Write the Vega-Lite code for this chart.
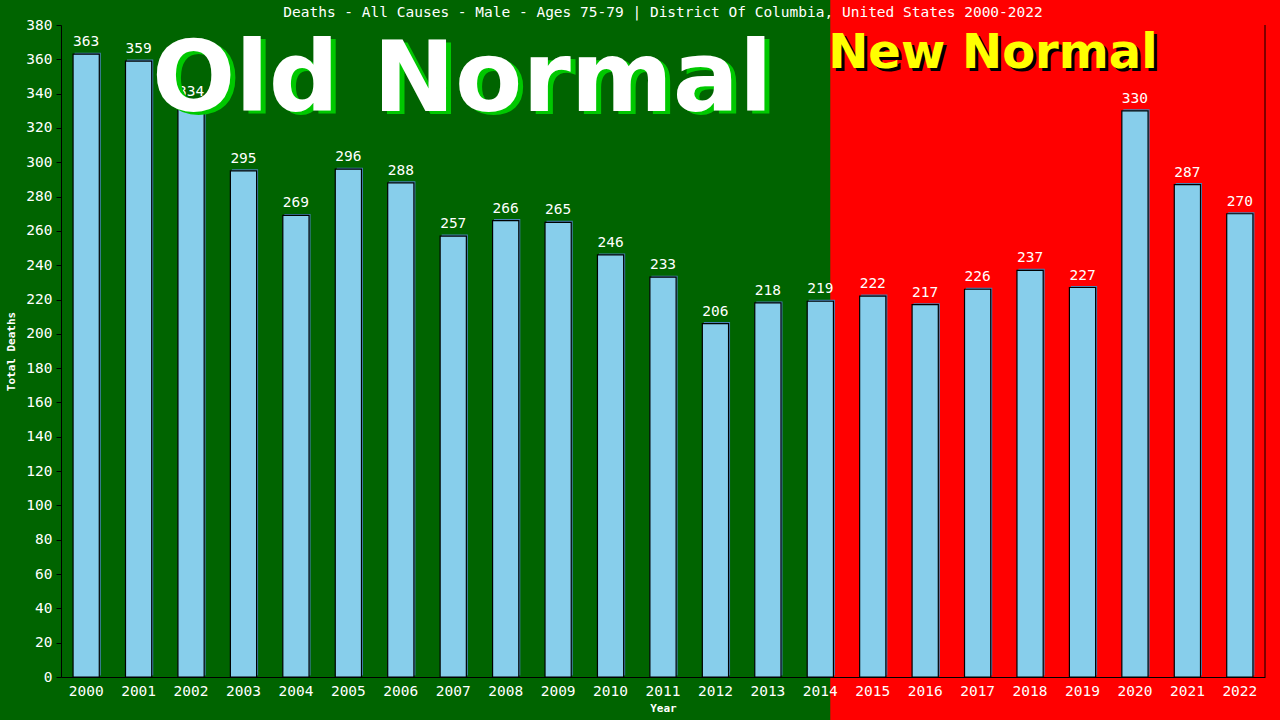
{
  "$schema": "https://vega.github.io/schema/vega-lite/v6.json",
  "description": "Deaths - All Causes - Male - Ages 75-79, District Of Columbia",
  "width": 1204,
  "height": 652,
  "autosize": {"type": "none"},
  "padding": {"left": 61, "top": 25, "right": 15, "bottom": 43},
  "background": "#006400",
  "title": {
    "text": "Deaths - All Causes - Male - Ages 75-79 | District Of Columbia, United States 2000-2022",
    "font": "DejaVu Sans Mono",
    "fontSize": 14.5,
    "fontWeight": "normal",
    "color": "white",
    "anchor": "middle",
    "baseline": "middle",
    "offset": -28
  },
  "datasets": {
    "deaths": [
      {"year": "2000", "v": 363},
      {"year": "2001", "v": 359},
      {"year": "2002", "v": 334},
      {"year": "2003", "v": 295},
      {"year": "2004", "v": 269},
      {"year": "2005", "v": 296},
      {"year": "2006", "v": 288},
      {"year": "2007", "v": 257},
      {"year": "2008", "v": 266},
      {"year": "2009", "v": 265},
      {"year": "2010", "v": 246},
      {"year": "2011", "v": 233},
      {"year": "2012", "v": 206},
      {"year": "2013", "v": 218},
      {"year": "2014", "v": 219},
      {"year": "2015", "v": 222},
      {"year": "2016", "v": 217},
      {"year": "2017", "v": 226},
      {"year": "2018", "v": 237},
      {"year": "2019", "v": 227},
      {"year": "2020", "v": 330},
      {"year": "2021", "v": 287},
      {"year": "2022", "v": 270}
    ],
    "zone": [{"year": "2014", "to": "2022", "v": -26, "v2": 395}],
    "edge": [{"year": "2022", "v": 0, "v2": 380}],
    "old": [{"year": "2007", "v": 330, "text": "Old Normal"}],
    "new": [{"year": "2014", "v": 355, "text": "New Normal"}]
  },
  "config": {
    "view": {"stroke": null},
    "axis": {
      "grid": false,
      "domainColor": "black",
      "tickColor": "black",
      "labelColor": "white",
      "labelFont": "DejaVu Sans Mono",
      "labelFontSize": 14.5,
      "titleColor": "white",
      "titleFont": "DejaVu Sans Mono",
      "titleFontSize": 11,
      "titleFontWeight": "bold"
    }
  },
  "encoding": {
    "x": {
      "field": "year",
      "type": "ordinal",
      "scale": {
        "domain": ["2000","2001","2002","2003","2004","2005","2006","2007","2008","2009","2010","2011","2012","2013","2014","2015","2016","2017","2018","2019","2020","2021","2022"],
        "paddingInner": 0.5,
        "paddingOuter": 0.23
      },
      "axis": {
        "title": "Year",
        "ticks": false,
        "labelAngle": 0,
        "labelPadding": 7,
        "titlePadding": 5,
        "zindex": 2
      }
    },
    "y": {
      "field": "v",
      "type": "quantitative",
      "scale": {"domain": [0, 380], "nice": false, "zero": true},
      "axis": {
        "title": "Total Deaths",
        "values": [0, 20, 40, 60, 80, 100, 120, 140, 160, 180, 200, 220, 240, 260, 280, 300, 320, 340, 360, 380],
        "tickSize": 5,
        "labelPadding": 4,
        "titlePadding": 9,
        "zindex": 2
      }
    }
  },
  "layer": [
    {
      "data": {"name": "zone"},
      "mark": {"type": "rect", "color": "#ff0000"},
      "encoding": {
        "x": {"field": "year", "type": "ordinal", "bandPosition": 0.88},
        "x2": {"field": "to", "bandPosition": 2.1},
        "y2": {"field": "v2"}
      }
    },
    {
      "data": {"name": "edge"},
      "mark": {"type": "rule", "color": "black", "strokeWidth": 1},
      "encoding": {
        "x": {"field": "year", "type": "ordinal", "bandPosition": 1.46},
        "y2": {"field": "v2"}
      }
    },
    {
      "data": {"name": "deaths"},
      "mark": {"type": "bar", "color": "#4682b4", "xOffset": 1.5, "yOffset": -1.5}
    },
    {
      "data": {"name": "deaths"},
      "mark": {"type": "bar", "color": "#87ceeb", "stroke": "black", "strokeWidth": 1.2}
    },
    {
      "data": {"name": "deaths"},
      "mark": {
        "type": "text",
        "color": "white",
        "font": "DejaVu Sans Mono",
        "fontSize": 14.5,
        "baseline": "alphabetic",
        "dy": -8
      },
      "encoding": {
        "text": {"field": "v", "type": "quantitative"}
      }
    },
    {
      "data": {"name": "old"},
      "mark": {
        "type": "text",
        "color": "#00c800",
        "font": "DejaVu Sans",
        "fontWeight": "bold",
        "fontSize": 98,
        "align": "center",
        "baseline": "alphabetic",
        "dx": 14,
        "dy": 3
      },
      "encoding": {
        "text": {"field": "text"}
      }
    },
    {
      "data": {"name": "old"},
      "mark": {
        "type": "text",
        "color": "white",
        "font": "DejaVu Sans",
        "fontWeight": "bold",
        "fontSize": 98,
        "align": "center",
        "baseline": "alphabetic",
        "dx": 9
      },
      "encoding": {
        "text": {"field": "text"}
      }
    },
    {
      "data": {"name": "new"},
      "mark": {
        "type": "text",
        "color": "black",
        "font": "DejaVu Sans",
        "fontWeight": "bold",
        "fontSize": 48,
        "align": "left",
        "baseline": "alphabetic",
        "dx": 3,
        "dy": 3
      },
      "encoding": {
        "x": {"field": "year", "type": "ordinal", "bandPosition": 0.8},
        "text": {"field": "text"}
      }
    },
    {
      "data": {"name": "new"},
      "mark": {
        "type": "text",
        "color": "#ffff00",
        "font": "DejaVu Sans",
        "fontWeight": "bold",
        "fontSize": 48,
        "align": "left",
        "baseline": "alphabetic"
      },
      "encoding": {
        "x": {"field": "year", "type": "ordinal", "bandPosition": 0.8},
        "text": {"field": "text"}
      }
    }
  ]
}
